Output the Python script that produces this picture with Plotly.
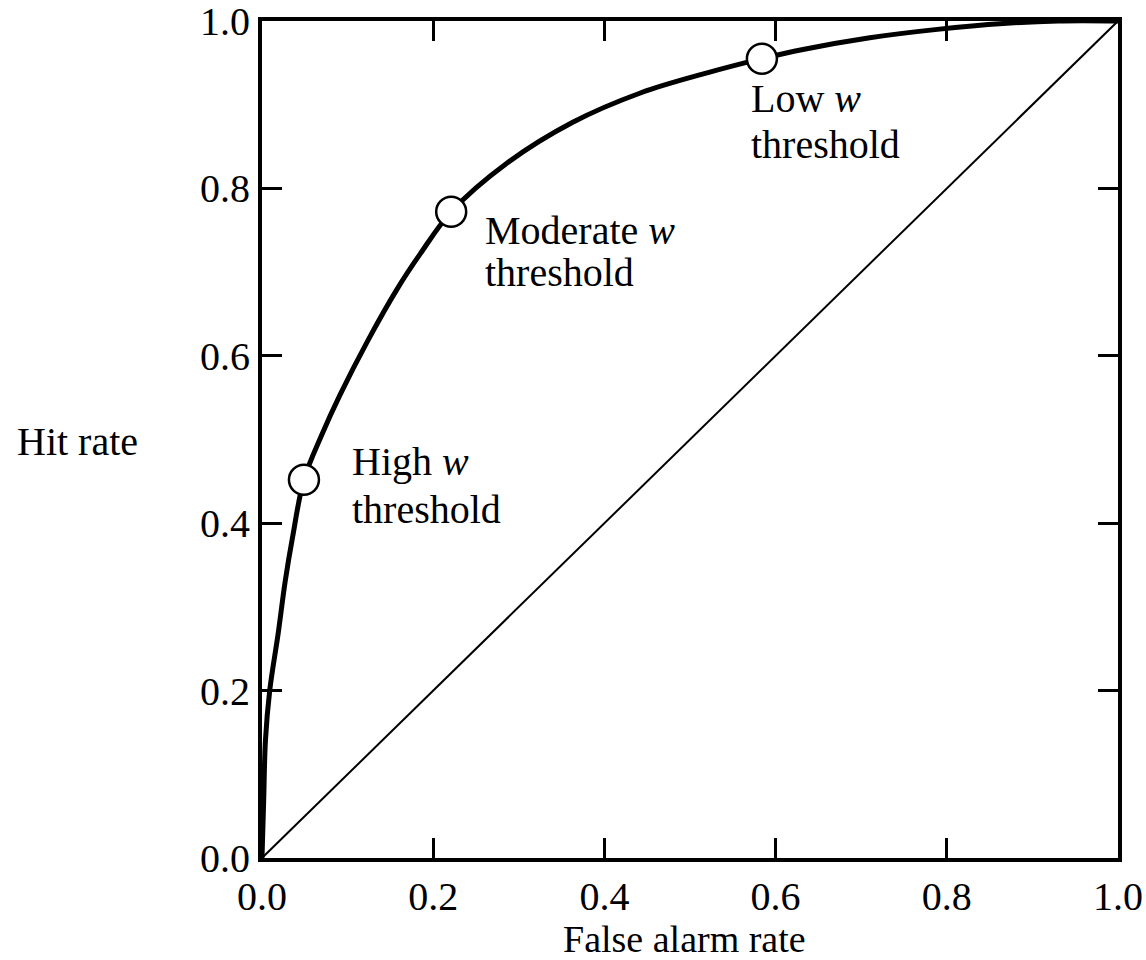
import plotly.graph_objects as go

# ROC curve
roc_x = [0, 0.002, 0.004, 0.009, 0.019, 0.027, 0.036, 0.049, 0.070, 0.091, 0.123,
         0.158, 0.185, 0.221, 0.286, 0.363, 0.442, 0.520, 0.584, 0.632, 0.710,
         0.789, 0.866, 0.93, 1.0]
roc_y = [0, 0.07, 0.14, 0.20, 0.269, 0.33, 0.385, 0.452, 0.506, 0.553, 0.617,
         0.680, 0.722, 0.772, 0.830, 0.879, 0.914, 0.938, 0.955, 0.966, 0.980,
         0.990, 0.997, 1.0, 1.0]

chance_x = [0, 1]
chance_y = [0, 1]

threshold_names = ["High", "Moderate", "Low"]
threshold_x = [0.049, 0.221, 0.584]
threshold_y = [0.452, 0.772, 0.955]

tick_vals = [0.0, 0.2, 0.4, 0.6, 0.8, 1.0]
tick_text = ["0.0", "0.2", "0.4", "0.6", "0.8", "1.0"]

x_title = "False alarm rate"
y_title = "Hit rate"

FONT = "Liberation Serif, Times New Roman, serif"

fig = go.Figure()
fig.add_trace(go.Scatter(x=chance_x, y=chance_y, mode="lines",
                         line=dict(color="black", width=2), hoverinfo="skip"))
fig.add_trace(go.Scatter(x=roc_x, y=roc_y, mode="lines",
                         line=dict(color="black", width=5, shape="spline", smoothing=1.0),
                         hoverinfo="skip"))
fig.add_trace(go.Scatter(x=threshold_x, y=threshold_y, mode="markers",
                         marker=dict(size=30, color="white",
                                     line=dict(color="black", width=2.5)),
                         hoverinfo="skip"))

# labels: (line1 x, line1 y, line2 y)
label_pos = [(0.103, 0.474, 0.416), (0.258, 0.750, 0.700), (0.569, 0.908, 0.852)]
for name, (lx, ly1, ly2) in zip(threshold_names, label_pos):
    fig.add_annotation(x=lx, y=ly1, xref="x", yref="y", text=f"{name} <i>w</i>",
                       showarrow=False, xanchor="left", yanchor="middle",
                       font=dict(family=FONT, size=40, color="black"))
    fig.add_annotation(x=lx, y=ly2, xref="x", yref="y", text="threshold",
                       showarrow=False, xanchor="left", yanchor="middle",
                       font=dict(family=FONT, size=40, color="black"))

fig.add_annotation(x=0.493, y=-0.0962, xref="paper", yref="paper", text=x_title,
                   showarrow=False, xanchor="center", yanchor="middle",
                   font=dict(family=FONT, size=38, color="black"))
fig.add_annotation(x=-0.2886, y=0.498, xref="paper", yref="paper", text=y_title,
                   showarrow=False, xanchor="left", yanchor="middle",
                   font=dict(family=FONT, size=40, color="black"))

axis_common = dict(range=[0, 1], tickvals=tick_vals, ticktext=tick_text,
                   ticks="inside", ticklen=20, tickwidth=3, tickcolor="black",
                   showline=True, linecolor="black", linewidth=4, mirror="ticks",
                   showgrid=False, zeroline=False, ticklabeloverflow="allow",
                   automargin=False,
                   tickfont=dict(family=FONT, size=40, color="black"))

fig.update_xaxes(**axis_common)
fig.update_yaxes(**axis_common)

fig.update_layout(width=1146, height=960, autosize=False,
                  margin=dict(l=262, r=28, t=21, b=102),
                  plot_bgcolor="white", paper_bgcolor="white",
                  showlegend=False, font=dict(family=FONT, color="black"))

fig.write_html("out.html")
